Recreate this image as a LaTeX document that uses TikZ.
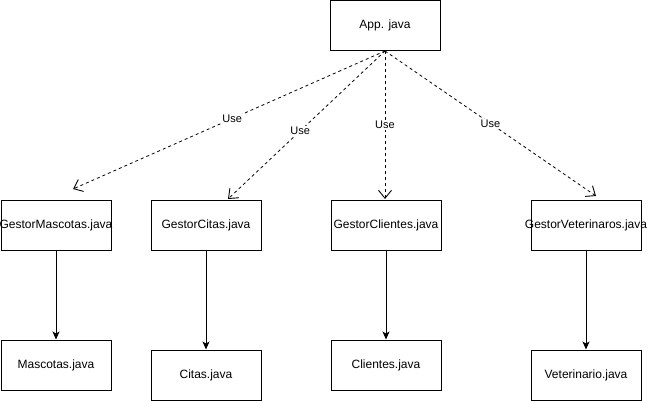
\documentclass[tikz,border=0pt]{standalone}
\usepackage{fontspec}
\setmainfont{Liberation Sans}
\usetikzlibrary{arrows.meta}
\begin{document}
\begin{tikzpicture}[x=1pt,y=-1pt,
  box/.style={draw=black, line width=1pt, fill=white, minimum width=110pt, minimum height=50pt, inner sep=0pt, font=\fontsize{12}{14}\selectfont},
  usesarrow/.style={draw=black, line width=0.8pt, dash pattern=on 3pt off 3pt, -{Straight Barb[length=8pt,width=13pt,line width=0.9pt]}},
  hasarrow/.style={draw=black, line width=1pt, -{Stealth[length=8pt,width=7pt,inset=2pt]}},
  lbl/.style={fill=white, inner sep=1pt, font=\fontsize{11}{13}\selectfont}
]
\useasboundingbox (0,0) rectangle (648,401);

\node[box] (app) at (385,25.5) {\makebox[0pt]{App. java}};

\node[box] (gm)  at (56,225)  {\makebox[0pt]{GestorMascotas.java}};
\node[box] (gc)  at (206,225) {\makebox[0pt]{GestorCitas.java}};
\node[box] (gcl) at (386,225) {\makebox[0pt]{GestorClientes.java}};
\node[box] (gv)  at (586,225) {\makebox[0pt]{GestorVeterinaros.java}};

\node[box] (m)  at (56,365)  {\makebox[0pt]{Mascotas.java}};
\node[box] (c)  at (206,375) {\makebox[0pt]{Citas.java}};
\node[box] (cl) at (386,365) {\makebox[0pt]{Clientes.java}};
\node[box] (v)  at (586,375) {\makebox[0pt]{Veterinario.java}};

\coordinate (tm)  at (73,189);
\coordinate (tc)  at (228,199);
\coordinate (tcl) at (385,199);
\coordinate (tv)  at (596,196);

\draw[usesarrow] (app.south) -- node[lbl, pos=0.49] {Use} (tm);
\draw[usesarrow] (app.south) -- node[lbl, pos=0.54] {Use} (tc);
\draw[usesarrow] (app.south) -- node[lbl, pos=0.5] {Use} (tcl);
\draw[usesarrow] (app.south) -- node[lbl, pos=0.5] {Use} (tv);

\draw[hasarrow] (gm.south) -- (m.north);
\draw[hasarrow] (gc.south) -- (c.north);
\draw[hasarrow] (gcl.south) -- (cl.north);
\draw[hasarrow] (gv.south) -- (v.north);
\end{tikzpicture}
\end{document}
